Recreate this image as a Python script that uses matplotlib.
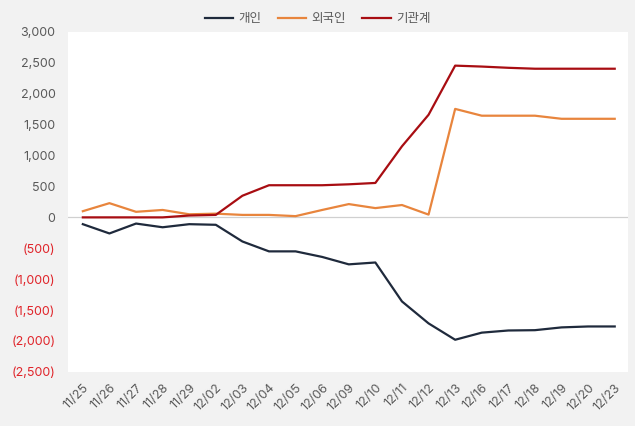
import numpy as np
import matplotlib.pyplot as plt
from matplotlib.ticker import FuncFormatter

plt.rcParams['font.family'] = ['Inter', 'Noto Sans CJK KR', 'DejaVu Sans']

dates = ['11/25', '11/26', '11/27', '11/28', '11/29', '12/02', '12/03', '12/04',
         '12/05', '12/06', '12/09', '12/10', '12/11', '12/12', '12/13', '12/16',
         '12/17', '12/18', '12/19', '12/20', '12/23']
individual = [-110, -260, -100, -160, -110, -120, -390, -550, -550, -640, -760,
              -730, -1360, -1715, -1980, -1865, -1830, -1825, -1780, -1765, -1765]
foreign = [100, 230, 90, 120, 50, 60, 40, 40, 20, 120, 215, 150, 200, 45,
           1755, 1645, 1645, 1645, 1595, 1595, 1595]
institution = [0, 0, 0, 0, 30, 40, 350, 520, 520, 520, 535, 557, 1150, 1660,
               2455, 2440, 2420, 2405, 2405, 2405, 2405]

fig = plt.figure(figsize=(6.35, 4.26), dpi=100, facecolor='#f2f2f2')
ax = fig.add_axes([0.107, 0.127, 0.882, 0.798])
ax.set_facecolor('white')

x = np.arange(len(dates))
ax.plot(x, individual, color='#1f2a3c', lw=1.6, label='개인')
ax.plot(x, foreign, color='#e8853d', lw=1.6, label='외국인')
ax.plot(x, institution, color='#a80d12', lw=1.6, label='기관계')
ax.axhline(0, color='#d0d0d0', lw=0.9, zorder=0)

ax.set_xlim(-0.56, 20.5)
ax.set_ylim(-2500, 3000)
ax.set_yticks(np.arange(-2500, 3001, 500))
ax.yaxis.set_major_formatter(FuncFormatter(
    lambda v, p: '0' if v == 0 else ('({:,.0f})'.format(-v) if v < 0 else '{:,.0f}'.format(v))))
for lbl, v in zip(ax.get_yticklabels(), ax.get_yticks()):
    lbl.set_color('#e0242a' if v < 0 else '#595959')
ax.set_xticks(x)
ax.set_xticklabels(dates, rotation=45, ha='right', rotation_mode='anchor', color='#595959')
ax.tick_params(axis='both', length=0, labelsize=9)
ax.tick_params(axis='y', pad=9)
ax.tick_params(axis='x', pad=7)
for s in ax.spines.values():
    s.set_visible(False)

fig.legend(loc='upper center', bbox_to_anchor=(0.5, 0.995), ncol=3, frameon=False,
           fontsize=9, handlelength=2.3, columnspacing=1.3, handletextpad=0.4,
           labelcolor='#595959')

fig.savefig('out.png', dpi=100, facecolor=fig.get_facecolor())
